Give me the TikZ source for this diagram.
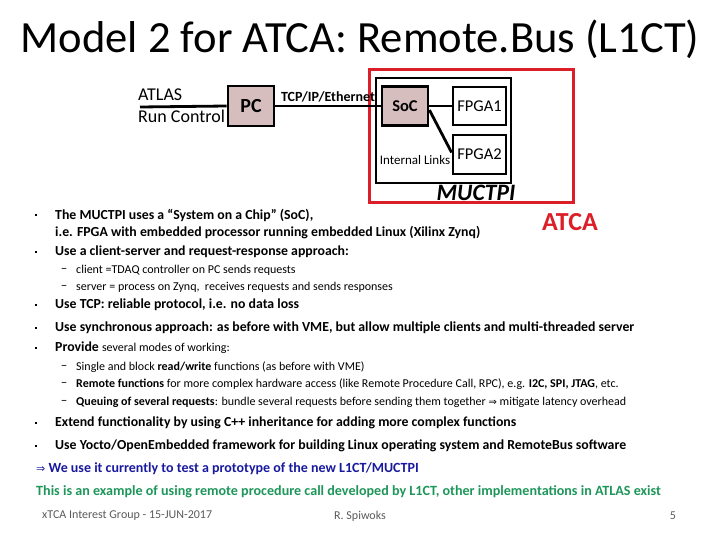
\documentclass[tikz,border=0pt]{standalone}
\usepackage{fontspec}
\setmainfont{Carlito}
\newfontfamily\djfont{DejaVu Sans}
\definecolor{boxfill}{RGB}{214,190,190}
\definecolor{atred}{RGB}{220,30,40}
\definecolor{dblue}{RGB}{25,25,160}
\definecolor{dgreen}{RGB}{30,150,90}
\definecolor{fgray}{RGB}{90,90,90}
\tikzset{
 blk/.style={draw=black,line width=2.8pt,inner sep=0pt},
 wire/.style={line width=2.8pt},
 txt/.style={anchor=west,inner sep=0pt},
 bt/.style={txt,font=\fontsize{13.8}{15}\selectfont\bfseries},
 st/.style={txt,font=\fontsize{12}{14}\selectfont},
 bul/.style={anchor=center,inner sep=0pt,font=\fontsize{13}{14}\selectfont},
 sq/.style={fill=black,inner sep=0pt,minimum size=2.6pt},
}
\newcommand{\mydash}{--}
\begin{document}
\begin{tikzpicture}[x=1pt,y=-1pt]
\useasboundingbox (0,0) rectangle (720,540);
\node[anchor=center,font=\fontsize{44.6}{48}\selectfont] (title) at (360,39) {Model 2 for ATCA: Remote.Bus (L1CT)};
% diagram
\node[txt,font=\fontsize{18}{20}\selectfont] (atlas) at (138,95) {ATLAS};
\node[txt,font=\fontsize{18}{20}\selectfont] (rc) at (138,116) {Run Control};
\coordinate (lstart) at (140,107);
\node[blk,fill=boxfill,minimum width=46pt,minimum height=40pt,font=\fontsize{20}{22}\selectfont\bfseries] (pc) at (251,106) {PC};
\draw[atred,line width=3pt] (369,70) rectangle (573,203);
\draw[line width=2.8pt] (376,78) rectangle (511,183);
\node[blk,fill=boxfill,minimum width=46pt,minimum height=39pt,font=\fontsize{16.5}{18}\selectfont\bfseries] (soc) at (405,106) {SoC};
\node[blk,fill=white,minimum width=53pt,minimum height=38pt,font=\fontsize{16.5}{18}\selectfont] (f1) at (479.5,106) {FPGA1};
\node[blk,fill=white,minimum width=53pt,minimum height=39pt,font=\fontsize{16.5}{18}\selectfont] (f2) at (479.5,154.5) {FPGA2};
\draw[wire] (lstart) -- (pc.west);
\draw[wire] (pc.east) -- node[above=2pt,font=\fontsize{14}{16}\selectfont\bfseries,inner sep=0pt] (tcp) {TCP/IP/Ethernet} (soc.west);
\draw[wire] (soc.east) -- (f1.west);
\draw[wire] ([yshift=-4pt]soc.east) -- ([yshift=2pt]f2.west);
\node[anchor=center,font=\fontsize{13}{15}\selectfont,inner sep=0pt] (il) at (415,160) {Internal Links};
\node[anchor=center,font=\fontsize{23.5}{25}\selectfont\bfseries\itshape,inner sep=0pt] (muctpi) at (476,193) {MUCTPI};
\node[anchor=center,font=\fontsize{26}{28}\selectfont\bfseries,text=atred,inner sep=0pt] (atca) at (570,222) {ATCA};
% bullets
\foreach \y in {215,252,305,328,348,423,446} \node[sq] at (36,\y) {};
\foreach \y in {270,287,367,384,402} \node[bul] at (64,\y) {\mydash};
\node[bt] (b1) at (55,215) {The MUCTPI uses a “System on a Chip” (SoC),};
\node[bt] (b1b) at (55,233) {i.e. FPGA with embedded processor running embedded Linux (Xilinx Zynq)};
\node[bt] (b2) at (55,252) {Use a client-server and request-response approach:};
\node[st] (s1) at (76,270) {client =TDAQ controller on PC sends requests};
\node[st] (s2) at (76,287) {server = process on Zynq,\ \ receives requests and sends responses};
\node[bt] (b3) at (55,305) {Use TCP: reliable protocol, i.e. no data loss};
\node[bt] (b4) at (55,328) {Use synchronous approach: as before with VME, but allow multiple clients and multi-threaded server};
\node[bt] (b5) at (55,348) {Provide \fontsize{12}{14}\selectfont\mdseries several modes of working:};
\node[st] (s3) at (76,367) {Single and block \textbf{read/write} functions (as before with VME)};
\node[st] (s4) at (76,384) {\textbf{Remote functions} for more complex hardware access (like Remote Procedure Call, RPC), e.g. \textbf{I2C, SPI, JTAG}, etc.};
\node[st] (s5) at (76,402) {\textbf{Queuing of several requests}: bundle several requests before sending them together {\djfont\fontsize{10}{12}\selectfont ⇒} mitigate latency overhead};
\node[bt] (b6) at (55,423) {Extend functionality by using C++ inheritance for adding more complex functions};
\node[bt] (b7) at (55,446) {Use Yocto/OpenEmbedded framework for building Linux operating system and RemoteBus software};
\node[bt,text=dblue,font=\fontsize{14}{16}\selectfont\bfseries] (c1) at (36,469) {{\djfont\mdseries\fontsize{11}{13}\selectfont ⇒} We use it currently to test a prototype of the new L1CT/MUCTPI};
\node[bt,text=dgreen,font=\fontsize{14.1}{16}\selectfont\bfseries] (c2) at (36,492) {This is an example of using remote procedure call developed by L1CT, other implementations in ATLAS exist};
\node[st,text=fgray] (f1t) at (42,516) {xTCA Interest Group - 15-JUN-2017};
\node[anchor=center,inner sep=0pt,text=fgray,font=\fontsize{12}{14}\selectfont] (f2t) at (360,516) {R. Spiwoks};
\node[anchor=center,inner sep=0pt,text=fgray,font=\fontsize{12}{14}\selectfont] (f3t) at (673,516) {5};
\end{tikzpicture}
\end{document}
